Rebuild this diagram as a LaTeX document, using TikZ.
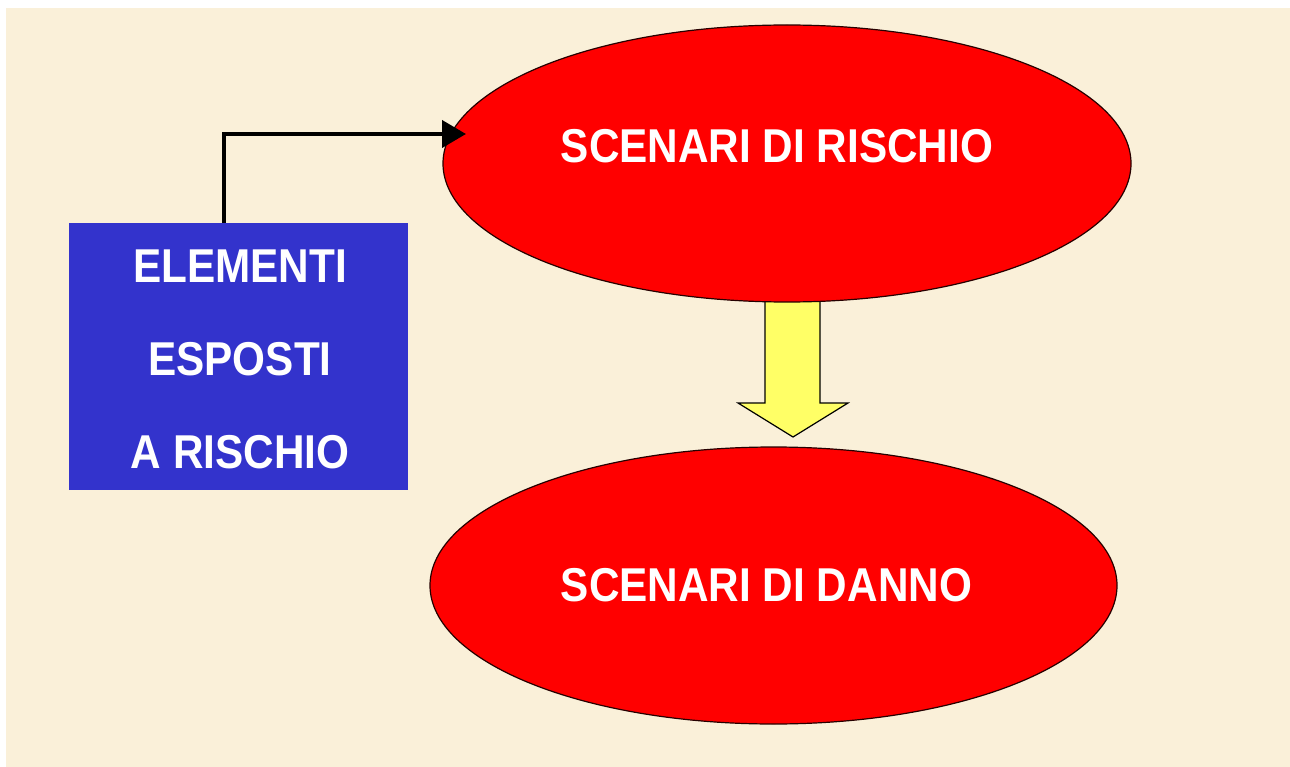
\documentclass[tikz,border=0pt]{standalone}
\usepackage{fontspec}
\setmainfont{Liberation Sans}
\newfontfamily\labfont[FakeStretch=0.89]{Liberation Sans Bold}
\usetikzlibrary{arrows.meta,shapes.geometric}
\definecolor{bgbeige}{RGB}{250,240,217}
\definecolor{boxblue}{RGB}{51,51,204}
\definecolor{ovalred}{RGB}{255,0,0}
\definecolor{arrowyellow}{RGB}{255,255,102}
\tikzset{
  lab/.style={text=white, font=\labfont\fontsize{47.5}{52}\selectfont, inner sep=0pt, anchor=base},
  oval/.style={ellipse, fill=ovalred, draw=black!85!red, line width=1.2pt, inner sep=0pt},
  bluebox/.style={rectangle, fill=boxblue, inner sep=0pt},
  conn/.style={line width=4pt, -{Triangle[length=24pt,width=27pt]}},
  fatarrow/.style={fill=arrowyellow, draw=black, line width=1.2pt, line join=miter}
}
\begin{document}
\begin{tikzpicture}[x=1pt,y=-1pt]
\useasboundingbox (0,0) rectangle (1290,767);
\fill[white] (-10,-10) rectangle (1300,777);
\fill[bgbeige] (6,8) rectangle (1300,777);

% yellow down arrow (drawn under the ovals)
\draw[fatarrow] (765,296) -- (820,296) -- (820,403) -- (848,403) -- (793,437) -- (738,403) -- (765,403) -- cycle;

% ovals
\node[oval, minimum width=688pt, minimum height=277pt] (e1) at (787,163.5) {};
\node[oval, minimum width=687pt, minimum height=277pt] (e2) at (773.5,585.5) {};
\node[lab] (t1) at (777,163) {SCENARI DI RISCHIO};
\node[lab] (t2) at (766.5,601) {SCENARI DI DANNO};

% blue box
\node[bluebox, minimum width=339pt, minimum height=267pt] (box) at (238.5,356.5) {};
\node[lab] (b1) at (240,283) {ELEMENTI};
\node[lab] (b2) at (240,375) {ESPOSTI};
\node[lab] (b3) at (240,468) {A RISCHIO};

% connector
\coordinate (start) at (224,223);
\coordinate (tip) at (466,134);
\draw[conn] (start) |- (tip);
\end{tikzpicture}
\end{document}
